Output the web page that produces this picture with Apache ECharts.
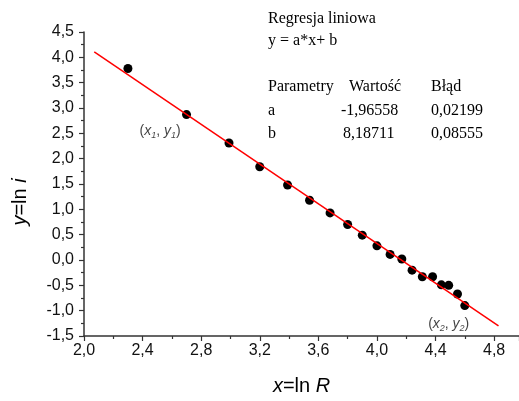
<!DOCTYPE html>
<html>
<head>
<meta charset="utf-8">
<script src="https://cdn.jsdelivr.net/npm/echarts@6/dist/echarts.min.js"></script>
<style>
  html, body { margin: 0; padding: 0; background: #fff; }
  #main { width: 519px; height: 401px; }
</style>
</head>
<body>
<div id="main"></div>
<script>
// punkty pomiarowe x = ln R, y = ln i
var lnR = [2.30, 2.70, 2.99, 3.20, 3.39, 3.54, 3.68, 3.80, 3.90, 4.00, 4.09, 4.17, 4.24, 4.31, 4.38, 4.44, 4.49, 4.55, 4.60];
var lnI = [3.78, 2.87, 2.31, 1.84, 1.48, 1.18, 0.93, 0.70, 0.49, 0.28, 0.11, 0.02, -0.20, -0.33, -0.33, -0.49, -0.50, -0.67, -0.90];

// prosta dopasowania - końce
var fitX = [2.07, 4.83];
var fitY = [4.11, -1.30];

// tabela regresji
var paramHeader = ['Parametry', 'Wartość', 'Błąd'];
var paramNames = ['a', 'b'];
var paramValues = ['-1,96558', '8,18711'];
var paramErrors = ['0,02199', '0,08555'];

// opisy punktów (x1, y1) i (x2, y2)
var annX = [2.52, 4.49];
var annY = [2.55, -1.27];
var annIdx = ['1', '2'];

var fontSans = 'Liberation Sans, Arial, sans-serif';
var fontSerif = 'Liberation Serif, Times New Roman, serif';

function comma(v) {
    return v.toFixed(1).replace('.', ',');
}

var myChart = echarts.init(document.getElementById('main'));

var texts = [];
function addText(x, y, s) {
    texts.push({
        type: 'text', left: x, top: y - 9,
        style: { text: s, fontFamily: fontSerif, fontSize: 16, fill: '#000' }
    });
}
addText(268, 20, 'Regresja liniowa');
addText(268, 42, 'y = a*x+ b');
addText(268, 88, paramHeader[0]);
addText(349, 88, paramHeader[1]);
addText(431, 88, paramHeader[2]);
for (var k = 0; k < paramNames.length; k++) {
    var ry = 112 + k * 23;
    addText(268, ry, paramNames[k]);
    addText(paramValues[k].charAt(0) == '-' ? 341 : 343, ry, paramValues[k]);
    addText(431, ry, paramErrors[k]);
}
// tytuł osi y
texts.push({
    type: 'text',
    x: 20, y: 202,
    rotation: Math.PI / 2,
    style: {
        text: '{i|y}=ln {i|i}',
        align: 'center',
        verticalAlign: 'middle',
        fontFamily: fontSans,
        fontSize: 20,
        fill: '#000',
        rich: { i: { fontFamily: fontSans, fontSize: 20, fontStyle: 'italic' } }
    }
});

var points = lnR.map(function (x, i) { return [x, lnI[i]]; });
var fit = fitX.map(function (x, i) { return [x, fitY[i]]; });
var ann = annX.map(function (x, i) { return [x, annY[i], annIdx[i]]; });

var option = {
    animation: false,
    backgroundColor: '#fff',
    grid: { left: 84, top: 32, right: 0, bottom: 62 },
    xAxis: {
        type: 'value',
        min: 2.0,
        max: 4.97,
        interval: 0.4,
        name: '{i|x}=ln {i|R}',
        nameLocation: 'middle',
        nameGap: 40,
        nameTextStyle: {
            fontFamily: fontSans, fontSize: 20, color: '#000',
            rich: { i: { fontFamily: fontSans, fontSize: 20, fontStyle: 'italic', color: '#000' } }
        },
        axisLine: { onZero: false, lineStyle: { color: '#333', width: 1.5 } },
        axisTick: { inside: false, length: 5, lineStyle: { color: '#333', width: 1.2 } },
        minorTick: { show: true, splitNumber: 2, length: 3, lineStyle: { color: '#333', width: 1.2 } },
        splitLine: { show: false },
        axisLabel: {
            showMaxLabel: false,
            margin: 7,
            fontFamily: fontSans, fontSize: 16, color: '#111',
            formatter: comma
        }
    },
    yAxis: {
        type: 'value',
        min: -1.5,
        max: 4.5,
        interval: 0.5,
        axisLine: { show: true, onZero: false, lineStyle: { color: '#333', width: 1.5 } },
        axisTick: { show: true, inside: false, length: 5, lineStyle: { color: '#333', width: 1.2 } },
        minorTick: { show: true, splitNumber: 2, length: 3, lineStyle: { color: '#333', width: 1.2 } },
        splitLine: { show: false },
        axisLabel: {
            margin: 10,
            fontFamily: fontSans, fontSize: 16, color: '#111',
            formatter: comma
        }
    },
    series: [{
        type: 'scatter',
        data: points,
        symbol: 'circle',
        symbolSize: 9,
        itemStyle: { color: '#000', opacity: 1 },
        z: 2
    }, {
        type: 'line',
        data: fit,
        symbol: 'none',
        lineStyle: { color: '#ff0000', width: 1.5 },
        z: 3
    }, {
        type: 'scatter',
        data: ann,
        symbolSize: 0,
        silent: true,
        label: {
            show: true,
            position: 'inside',
            fontFamily: fontSans,
            fontSize: 14,
            color: '#111',
            formatter: function (p) {
                var n = p.data[2];
                return '({i|x}{s|' + n + '}, {i|y}{s|' + n + '})';
            },
            rich: {
                i: { fontFamily: fontSans, fontSize: 14, fontStyle: 'italic', color: '#111', lineHeight: 18, verticalAlign: 'middle' },
                s: { fontFamily: fontSans, fontSize: 9, fontStyle: 'italic', color: '#111', lineHeight: 18, verticalAlign: 'bottom' }
            }
        },
        z: 4
    }],
    graphic: texts
};
myChart.setOption(option);
</script>
</body>
</html>
